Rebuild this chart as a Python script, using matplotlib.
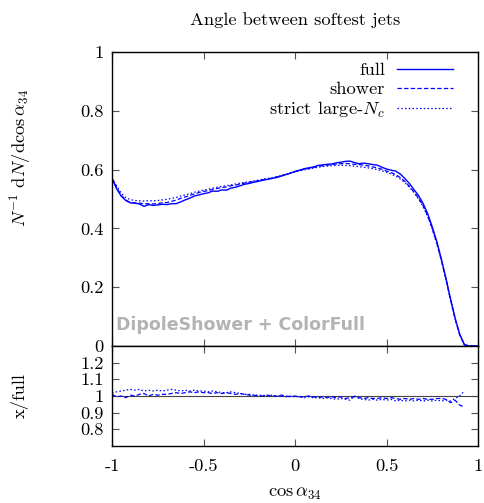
import matplotlib
matplotlib.use("Agg")
import matplotlib.pyplot as plt
import numpy as np

plt.rcParams['font.family'] = ['cmr10', 'DejaVu Serif']
plt.rcParams['mathtext.fontset'] = 'cm'
plt.rcParams['axes.unicode_minus'] = False
plt.rcParams['axes.formatter.use_mathtext'] = True

x_main = [round(-1.0 + 0.025 * i, 3) for i in range(81)]

full = [0.570, 0.535, 0.510, 0.495, 0.487, 0.486, 0.483, 0.475, 0.481, 0.478,
        0.480, 0.482, 0.481, 0.484, 0.484, 0.490, 0.497, 0.503, 0.510, 0.514,
        0.518, 0.521, 0.527, 0.526, 0.531, 0.530, 0.537, 0.540, 0.545, 0.550,
        0.553, 0.557, 0.560, 0.564, 0.567, 0.570, 0.573, 0.578, 0.583, 0.588,
        0.594, 0.598, 0.603, 0.606, 0.609, 0.614, 0.616, 0.618, 0.619, 0.623,
        0.625, 0.628, 0.629, 0.624, 0.620, 0.622, 0.620, 0.617, 0.615, 0.608,
        0.602, 0.598, 0.595, 0.585, 0.570, 0.553, 0.532, 0.512, 0.485, 0.450,
        0.405, 0.355, 0.295, 0.230, 0.160, 0.095, 0.040, 0.005, 0.0, 0.0, 0.0]

shower = [0.572, 0.540, 0.512, 0.497, 0.488, 0.487, 0.486, 0.484, 0.484, 0.483,
          0.485, 0.487, 0.488, 0.492, 0.496, 0.502, 0.507, 0.512, 0.517, 0.522,
          0.526, 0.528, 0.533, 0.536, 0.539, 0.541, 0.545, 0.547, 0.551, 0.554,
          0.557, 0.560, 0.562, 0.566, 0.568, 0.571, 0.575, 0.579, 0.583, 0.588,
          0.593, 0.597, 0.601, 0.604, 0.607, 0.611, 0.613, 0.615, 0.617, 0.619,
          0.620, 0.621, 0.620, 0.618, 0.617, 0.615, 0.613, 0.609, 0.606, 0.601,
          0.595, 0.590, 0.583, 0.573, 0.560, 0.543, 0.524, 0.503, 0.477, 0.443,
          0.400, 0.350, 0.291, 0.227, 0.156, 0.092, 0.038, 0.004, 0.0, 0.0, 0.0]

strict = [0.570, 0.545, 0.520, 0.505, 0.498, 0.495, 0.494, 0.493, 0.494, 0.494,
          0.495, 0.497, 0.499, 0.502, 0.505, 0.510, 0.514, 0.518, 0.523, 0.527,
          0.530, 0.533, 0.537, 0.540, 0.543, 0.545, 0.548, 0.551, 0.554, 0.556,
          0.559, 0.561, 0.564, 0.567, 0.570, 0.572, 0.576, 0.580, 0.584, 0.588,
          0.592, 0.596, 0.599, 0.602, 0.605, 0.608, 0.610, 0.612, 0.613, 0.614,
          0.615, 0.614, 0.613, 0.612, 0.610, 0.608, 0.606, 0.603, 0.600, 0.596,
          0.591, 0.585, 0.578, 0.568, 0.556, 0.540, 0.522, 0.500, 0.474, 0.441,
          0.398, 0.348, 0.290, 0.226, 0.157, 0.093, 0.040, 0.006, 0.0, 0.0, 0.0]

x_ratio = [round(-1.0 + 0.025 * i, 3) for i in range(78)]

shower_ratio = [1.01, 0.995, 1.00, 0.99, 1.005, 1.00, 1.01, 1.015, 1.00, 1.01,
                1.005, 1.01, 1.01, 1.015, 1.02, 1.015, 1.02, 1.025, 1.02, 1.025,
                1.02, 1.02, 1.015, 1.02, 1.015, 1.02, 1.015, 1.01, 1.015, 1.01,
                1.005, 1.005, 1.00, 1.00, 1.005, 1.00, 1.00, 1.005, 1.00, 0.995,
                1.00, 0.995, 0.995, 1.00, 0.995, 0.99, 0.995, 0.99, 0.995, 0.99,
                0.995, 0.985, 0.99, 0.995, 0.99, 0.985, 0.99, 0.985, 0.985, 0.99,
                0.985, 0.99, 0.985, 0.98, 0.985, 0.98, 0.985, 0.98, 0.985, 0.98,
                0.98, 0.985, 0.985, 0.98, 0.96, 0.975, 0.945, 0.935]

strict_ratio = [1.02, 1.025, 1.03, 1.035, 1.04, 1.035, 1.04, 1.03, 1.035, 1.03,
                1.035, 1.03, 1.035, 1.04, 1.035, 1.03, 1.035, 1.03, 1.035, 1.03,
                1.03, 1.025, 1.03, 1.025, 1.02, 1.02, 1.025, 1.02, 1.015, 1.01,
                1.01, 1.005, 1.005, 1.005, 1.00, 1.005, 1.00, 1.00, 0.995, 1.00,
                0.995, 0.995, 0.99, 0.995, 0.99, 0.99, 0.985, 0.99, 0.985, 0.98,
                0.985, 0.98, 0.975, 1.00, 0.985, 0.98, 0.975, 0.98, 0.975, 0.98,
                0.975, 0.98, 0.97, 0.975, 0.97, 0.975, 0.97, 0.975, 0.97, 0.975,
                0.97, 0.975, 0.97, 0.975, 0.97, 0.985, 1.00, 1.03]

x_ticks = [-1, -0.5, 0, 0.5, 1]
x_ticklabels = ["-1", "-0.5", "0", "0.5", "1"]
y_ticks = [0, 0.2, 0.4, 0.6, 0.8, 1]
y_ticklabels = ["0", "0.2", "0.4", "0.6", "0.8", "1"]
r_ticks = [0.8, 0.9, 1.0, 1.1, 1.2]
r_ticklabels = ["0.8", "0.9", "1", "1.1", "1.2"]

W, H = 484, 503
fig = plt.figure(figsize=(W / 100, H / 100), dpi=100)
L, R = 112, 478
ax = fig.add_axes([L / W, 1 - 346 / H, (R - L) / W, (346 - 52) / H])
axr = fig.add_axes([L / W, 1 - 446 / H, (R - L) / W, (446 - 346) / H])

blue = '#0000ff'
ax.plot(x_main, full, color=blue, lw=1.0, label='full')
ax.plot(x_main, shower, color=blue, lw=0.9, ls=(0, (3.5, 1.8)), label='shower')
ax.plot(x_main, strict, color=blue, lw=0.9, ls=(0, (1.2, 1.8)), label=r'strict large-$N_c$')

axr.axhline(1.0, color='#444444', lw=0.8)
axr.plot(x_ratio, shower_ratio, color=blue, lw=0.9, ls=(0, (3.5, 1.8)))
axr.plot(x_ratio, strict_ratio, color=blue, lw=0.9, ls=(0, (1.2, 1.8)))

fs = 13.3
for a in (ax, axr):
    a.set_xlim(-1, 1)
    a.tick_params(direction='in', top=True, right=True, length=5, width=0.8,
                  color='#555555', labelsize=fs, pad=6)
    for s in a.spines.values():
        s.set_linewidth(1.0)
        s.set_color('black')
    a.set_xticks(x_ticks)

ax.set_ylim(0, 1)
ax.set_yticks(y_ticks)
ax.set_yticklabels(y_ticklabels)
ax.set_xticklabels([])
axr.set_ylim(0.7, 1.3)
axr.set_yticks(r_ticks)
axr.set_yticklabels(r_ticklabels)
axr.set_xticklabels(x_ticklabels)
axr.tick_params(axis='x', pad=9)

fig.text(295 / W, 1 - 20 / H, 'Angle between softest jets', ha='center', va='center', fontsize=fs)
fig.text(20 / W, 1 - 158 / H, r'$N^{-1}\ \mathrm{d}N/\mathrm{d}\cos\alpha_{34}$',
         rotation=90, ha='center', va='center', fontsize=fs)
fig.text(20 / W, 1 - 396 / H, 'x/full', rotation=90, ha='center', va='center', fontsize=fs)
fig.text(295 / W, 1 - 502 / H, r'$\cos\alpha_{34}$', ha='center', va='bottom', fontsize=fs)

ax.text(0.012, 0.04, 'DipoleShower + ColorFull', transform=ax.transAxes,
        family='DejaVu Sans', fontweight='bold', color='#b3b3b3', fontsize=12.5,
        ha='left', va='bottom')

leg = ax.legend(loc='upper right', frameon=False, markerfirst=False, fontsize=fs,
                handlelength=3.0, handletextpad=0.65, labelspacing=0.15,
                borderaxespad=0.0, bbox_to_anchor=((460 - L) / (R - L), 1 - (55 - 52) / 294))

fig.savefig('out.png', dpi=100)
